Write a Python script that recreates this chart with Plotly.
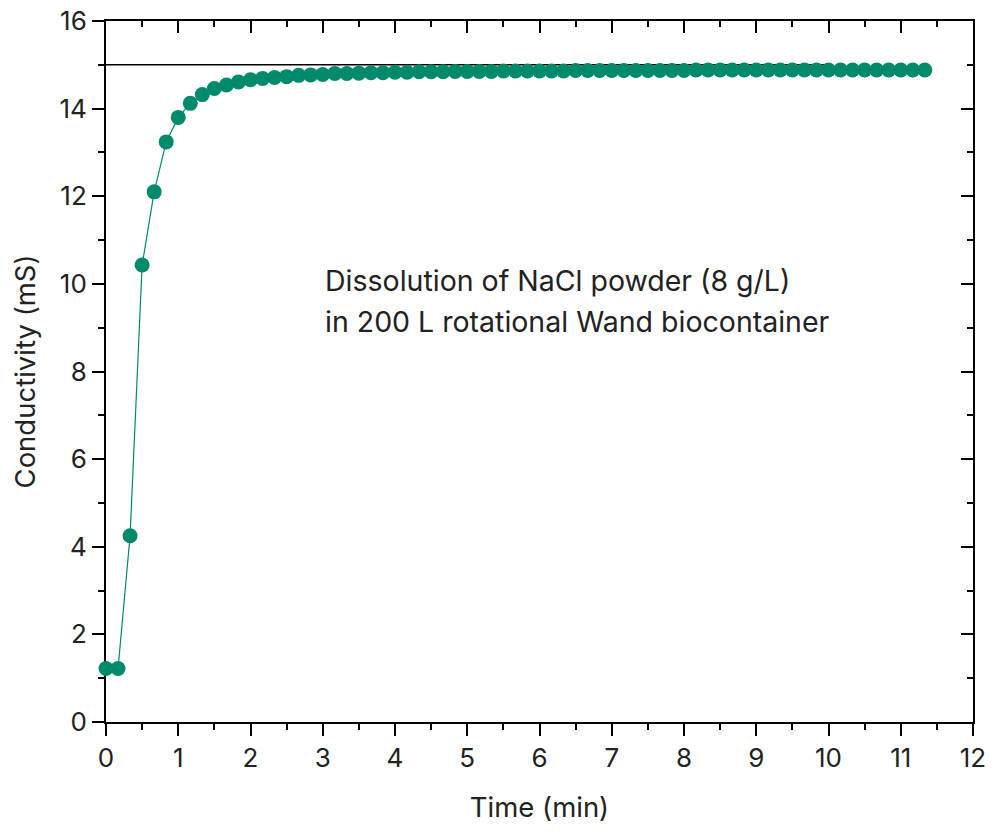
import plotly.graph_objects as go

# Time in minutes (one reading every 10 s)
time_min = [i / 6 for i in range(69)]
conductivity_ms = [
    1.22, 1.22, 4.25, 10.43, 12.10, 13.24, 13.80, 14.12, 14.32, 14.46,
    14.54, 14.61, 14.66, 14.69, 14.71, 14.73, 14.76, 14.77, 14.78, 14.80,
    14.80, 14.81, 14.82, 14.82, 14.83, 14.83, 14.84, 14.84, 14.84, 14.85,
    14.85, 14.85, 14.85, 14.86, 14.86, 14.86, 14.86, 14.86, 14.86, 14.87,
    14.87, 14.87, 14.87, 14.87, 14.87, 14.87, 14.87, 14.87, 14.87, 14.88,
    14.88, 14.88, 14.88, 14.88, 14.88, 14.88, 14.88, 14.88, 14.88, 14.88,
    14.88, 14.88, 14.88, 14.88, 14.88, 14.88, 14.88, 14.88, 14.88,
]
ref_line_x = [0, 10]
ref_line_y = [15, 15]
annotation_lines = ["Dissolution of NaCl powder (8 g/L)", "in 200 L rotational Wand biocontainer"]
x_title = "Time (min)"
y_title = "Conductivity (mS)"

FONT = "Inter"
FS_TICK = 26
FS_TITLE = 27.5
FS_NOTE = 28.5
TXT = "#222222"
GREEN = "#008a6c"

fig = go.Figure()
fig.add_trace(go.Scatter(
    x=ref_line_x, y=ref_line_y, mode="lines",
    line=dict(color="black", width=1.5), showlegend=False, hoverinfo="skip",
))
fig.add_trace(go.Scatter(
    x=time_min, y=conductivity_ms, mode="lines+markers",
    line=dict(color=GREEN, width=1.2),
    marker=dict(color=GREEN, size=15),
    cliponaxis=False, showlegend=False,
))
# invisible trace for mirrored axes
fig.add_trace(go.Scatter(
    x=[0], y=[0], xaxis="x2", yaxis="y2", mode="markers",
    marker=dict(opacity=0), showlegend=False, hoverinfo="skip",
))

axis_common = dict(
    showline=True, linecolor="black", linewidth=2,
    showgrid=False, zeroline=False,
    tickcolor="black", tickwidth=2, ticklen=12,
    layer="below traces", automargin=False,
)

fig.update_layout(
    width=980, height=816,
    margin=dict(l=98, r=15, t=13, b=102),
    plot_bgcolor="white", paper_bgcolor="white",
    font=dict(family=FONT, size=FS_TICK, color=TXT),
    xaxis=dict(
        **axis_common, range=[0, 12], dtick=1, ticks="outside",
        minor=dict(dtick=0.5, ticks="outside", ticklen=6, tickcolor="black", tickwidth=2),
        title=dict(text=x_title, standoff=29, font=dict(size=FS_TITLE, color=TXT)),
        tickfont=dict(size=FS_TICK, color=TXT), ticklabeloverflow="allow",
    ),
    yaxis=dict(
        **axis_common, range=[0, 16], dtick=2, ticks="outside",
        minor=dict(dtick=1, ticks="outside", ticklen=6, tickcolor="black", tickwidth=2),
        title=dict(text=y_title, standoff=19, font=dict(size=FS_TITLE, color=TXT)),
        tickfont=dict(size=FS_TICK, color=TXT), ticklabeloverflow="allow",
    ),
    xaxis2=dict(
        **axis_common, range=[0, 12], dtick=1, ticks="inside",
        minor=dict(dtick=0.5, ticks="inside", ticklen=6, tickcolor="black", tickwidth=2),
        overlaying="x", side="top", anchor="y2", showticklabels=False,
    ),
    yaxis2=dict(
        **axis_common, range=[0, 16], dtick=2, ticks="inside",
        minor=dict(dtick=1, ticks="inside", ticklen=6, tickcolor="black", tickwidth=2),
        overlaying="y", side="right", anchor="x2", showticklabels=False,
    ),
)

for line, yv in zip(annotation_lines, [10.08, 9.14]):
    fig.add_annotation(
        x=3.0, y=yv, xref="x", yref="y", text=line, showarrow=False,
        xanchor="left", yanchor="middle", font=dict(family=FONT, size=FS_NOTE, color=TXT),
    )

fig.write_html("out.html")
